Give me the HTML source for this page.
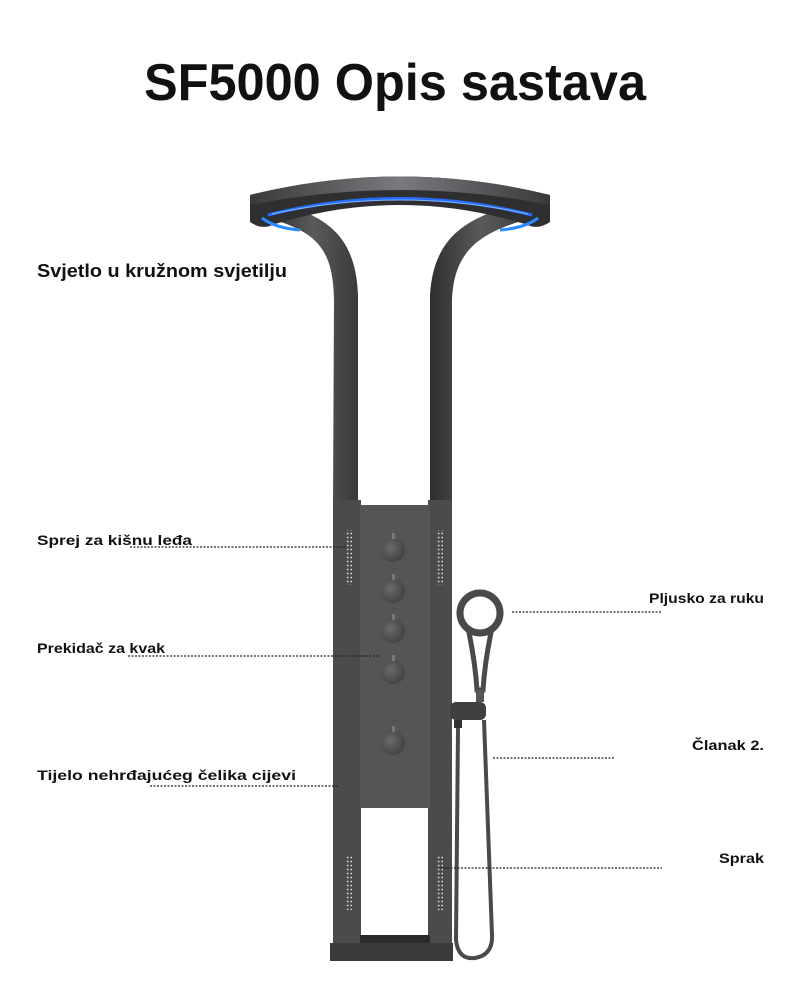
<!DOCTYPE html>
<html><head><meta charset="utf-8"><style>
html,body{margin:0;padding:0;background:#fff;}
svg{display:block}
text{font-family:"Liberation Sans",sans-serif;font-weight:bold;fill:#111}
</style></head><body>
<svg width="790" height="1003" viewBox="0 0 790 1003" xmlns="http://www.w3.org/2000/svg">
<defs>
<linearGradient id="ring" x1="0" x2="1" y1="0" y2="0">
<stop offset="0" stop-color="#3a3a3c"/><stop offset="0.5" stop-color="#7a7a7e"/><stop offset="1" stop-color="#3a3a3c"/>
</linearGradient>
<linearGradient id="col" x1="0" x2="1"><stop offset="0" stop-color="#2e2e30"/><stop offset="0.5" stop-color="#5a5a5c"/><stop offset="1" stop-color="#3a3a3c"/></linearGradient>
<radialGradient id="knob" cx="0.4" cy="0.4" r="0.7"><stop offset="0" stop-color="#6a6a6c"/><stop offset="1" stop-color="#3e3e40"/></radialGradient>
<pattern id="dots" width="3.5" height="4" patternUnits="userSpaceOnUse"><circle cx="1.2" cy="1.5" r="0.9" fill="#ddd"/></pattern>
</defs>
<text x="395" y="100" text-anchor="middle" font-size="52" textLength="502" lengthAdjust="spacingAndGlyphs">SF5000 Opis sastava</text>

<!-- columns upper curves -->
<path d="M268 218 C318 232 333 250 334 300 L333 505 L358 505 L358 295 C356 245 335 225 305 212 Z" fill="url(#col)"/>
<path d="M532 218 C480 232 454 250 452 300 L452 505 L430 505 L430 295 C433 245 458 225 492 212 Z" fill="url(#col)"/>
<!-- ring -->
<path d="M250 195 Q400 158 550 195 L550 222 Q538 230 528 225 Q400 185 272 225 Q262 230 250 222 Z" fill="#2f2f31"/>
<path d="M250 195 Q400 158 550 195 L550 205 Q400 175 250 205 Z" fill="url(#ring)"/>
<path d="M262 218 Q275 228 300 230 M538 218 Q525 228 500 230" stroke="#2a8cff" stroke-width="3" fill="none"/>
<path d="M268 215 Q400 182 532 215" stroke="#2a6cff" stroke-width="3" fill="none"/>
<path d="M272 214 Q400 186 528 214" stroke="#7fb8ff" stroke-width="1" fill="none"/>

<!-- lower columns & panel -->
<rect x="333" y="500" width="28" height="450" fill="#4b4b4d"/>
<rect x="428" y="500" width="24" height="450" fill="#4b4b4d"/>
<rect x="360" y="505" width="70" height="303" fill="#555557"/>
<rect x="330" y="943" width="123" height="18" fill="#3b3b3d"/>
<rect x="360" y="935" width="70" height="8" fill="#2a2a2c"/>
<!-- dots -->
<rect x="345" y="530" width="7" height="55" fill="url(#dots)"/>
<rect x="437" y="530" width="7" height="55" fill="url(#dots)"/>
<rect x="345" y="855" width="7" height="55" fill="url(#dots)"/>
<rect x="437" y="855" width="7" height="55" fill="url(#dots)"/>
<!-- knobs -->
<g fill="url(#knob)">
<circle cx="393" cy="550" r="12"/><circle cx="393" cy="591" r="12"/><circle cx="393" cy="631" r="12"/><circle cx="393" cy="672" r="12"/><circle cx="393" cy="743" r="12"/>
</g>
<g fill="#777"><rect x="392" y="533" width="3" height="6"/><rect x="392" y="574" width="3" height="6"/><rect x="392" y="614" width="3" height="6"/><rect x="392" y="655" width="3" height="6"/><rect x="392" y="726" width="3" height="6"/></g>

<!-- hand shower -->
<circle cx="480" cy="613" r="20" fill="none" stroke="#4a4a4c" stroke-width="7"/>
<path d="M468 628 Q475 660 477 690 L483 690 Q485 660 492 628" fill="none" stroke="#4a4a4c" stroke-width="5"/>
<rect x="476" y="690" width="8" height="12" fill="#555"/>
<rect x="450" y="702" width="36" height="18" rx="6" fill="#404042"/>
<rect x="454" y="720" width="8" height="8" fill="#333"/>
<path d="M458 728 L456 940 Q458 960 475 958 Q493 955 492 935 L484 720" fill="none" stroke="#4a4a4c" stroke-width="4"/>

<!-- leader lines -->
<g stroke="#222" stroke-width="1.3" stroke-dasharray="2 1.5" fill="none">
<line x1="130" y1="547" x2="345" y2="547"/>
<line x1="128" y1="656" x2="380" y2="656"/>
<line x1="150" y1="786" x2="338" y2="786"/>
<line x1="512" y1="612" x2="662" y2="612"/>
<line x1="493" y1="758" x2="615" y2="758"/>
<line x1="440" y1="868" x2="662" y2="868"/>
</g>

<text x="37" y="277" font-size="18" textLength="250" lengthAdjust="spacingAndGlyphs">Svjetlo u kružnom svjetilju</text>
<text x="37" y="545" font-size="14" textLength="155" lengthAdjust="spacingAndGlyphs">Sprej za kišnu leđa</text>
<text x="37" y="653" font-size="14" textLength="128" lengthAdjust="spacingAndGlyphs">Prekidač za kvak</text>
<text x="37" y="780" font-size="14" textLength="259" lengthAdjust="spacingAndGlyphs">Tijelo nehrđajućeg čelika cijevi</text>
<text x="649" y="603" font-size="14" textLength="115" lengthAdjust="spacingAndGlyphs">Pljusko za ruku</text>
<text x="692" y="750" font-size="14" textLength="72" lengthAdjust="spacingAndGlyphs">Članak 2.</text>
<text x="719" y="863" font-size="14" textLength="45" lengthAdjust="spacingAndGlyphs">Sprak</text>
</svg>
</body></html>
